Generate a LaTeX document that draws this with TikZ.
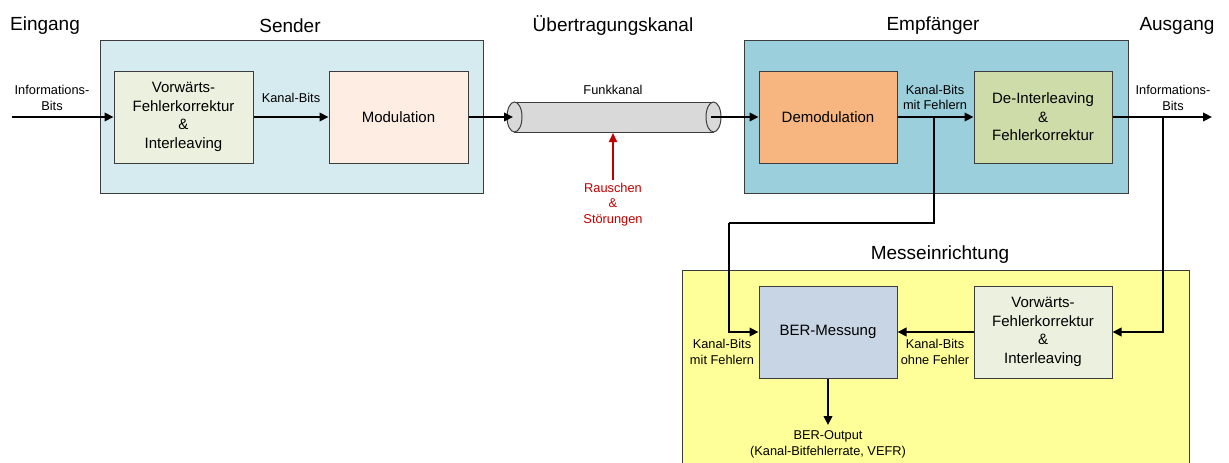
\documentclass[tikz,border=0pt]{standalone}
\usepackage{fontspec}
\setmainfont{Liberation Sans}
\usetikzlibrary{arrows.meta}
\definecolor{senderfill}{RGB}{214,235,240}
\definecolor{empffill}{RGB}{154,207,219}
\definecolor{fecfill}{RGB}{235,241,222}
\definecolor{modfill}{RGB}{253,237,226}
\definecolor{demodfill}{RGB}{247,182,128}
\definecolor{deintfill}{RGB}{205,220,169}
\definecolor{messfill}{RGB}{255,255,153}
\definecolor{berfill}{RGB}{200,213,228}
\definecolor{cylfill}{RGB}{217,217,217}
\definecolor{bordergray}{RGB}{60,60,60}
\definecolor{noisered}{RGB}{192,0,0}
\tikzset{
  frame/.style={draw=bordergray, line width=1pt, inner sep=0pt},
  blockbox/.style={draw=bordergray, line width=1pt, inner sep=0pt,
    minimum width=138pt, minimum height=92pt, align=center,
    font=\fontsize{15}{18.5}\selectfont},
  title/.style={font=\fontsize{19}{22}\selectfont, inner sep=0pt},
  lbl/.style={font=\fontsize{12.8}{15.5}\selectfont, align=center, inner sep=0pt},
  flow/.style={line width=2.2pt, -{Triangle[length=9pt,width=8.5pt]}},
  plainline/.style={line width=2.2pt},
  noise/.style={line width=2pt, draw=noisered, -{Triangle[length=9pt,width=8pt]}}
}
\begin{document}
\begin{tikzpicture}[x=1pt,y=-1pt]
\useasboundingbox (0,0) rectangle (1229,463);
\clip (0,0) rectangle (1229,463);
\fill[white] (0,0) rectangle (1229,463);

% group frames
\node[frame, fill=senderfill, minimum width=383pt, minimum height=153pt] (sender) at (291.5,116.5) {};
\node[frame, fill=empffill, minimum width=384pt, minimum height=153pt] (empf) at (936,116.5) {};
\node[frame, fill=messfill, minimum width=507pt, minimum height=220pt] (mess) at (935.5,380) {};

% titles
\node[title] (tEin) at (45,26) {Eingang};
\node[title] (tSend) at (290,26) {Sender};
\node[title] (tUeb) at (613,26) {Übertragungskanal};
\node[title] (tEmpf) at (933,26) {Empfänger};
\node[title] (tAus) at (1177,26) {Ausgang};
\node[title] (tMess) at (940,255) {Messeinrichtung};

% blocks
\node[blockbox, fill=fecfill, minimum width=139pt] (fec1) at (183.5,117) {Vorwärts-\\Fehlerkorrektur\\\&\\Interleaving};
\node[blockbox, fill=modfill, minimum width=139pt] (mod) at (398.5,117) {Modulation};
\node[blockbox, fill=demodfill] (demod) at (828,117) {Demodulation};
\node[blockbox, fill=deintfill] (deint) at (1043,117) {De-Interleaving\\\&\\Fehlerkorrektur};
\node[blockbox, fill=berfill] (ber) at (828,332) {BER-Messung};
\node[blockbox, fill=fecfill] (fec2) at (1043,332) {Vorwärts-\\Fehlerkorrektur\\\&\\Interleaving};

% channel cylinder
\node[inner sep=0pt, minimum width=200pt, minimum height=30pt] (kanal) at (614,117) {};
\fill[cylfill] (514,102) rectangle (714,132);
\draw[bordergray, line width=1pt] (514,102) -- (714,102) (514,132) -- (714,132);
\draw[bordergray, line width=1pt, fill=cylfill] (514.5,117) ellipse [x radius=7.5pt, y radius=15pt];
\draw[bordergray, line width=1pt, fill=cylfill] (713.5,117) ellipse [x radius=7.5pt, y radius=15pt];
\coordinate (cylIn) at (513,117);
\coordinate (cylOut) at (711,117);
\coordinate (cylBot) at (613,133);

% coordinates
\coordinate (inL) at (12,117);
\coordinate (outR) at (1212,117);
\coordinate (b1) at (934,117);
\coordinate (k1) at (729,223);
\coordinate (b2) at (1163,117);
\coordinate (berout) at (828,425);
\coordinate (noiseSrc) at (613,180);

% connectors
\draw[flow] (inL) -- (fec1.west);
\draw[flow] (fec1.east) -- (mod.west);
\draw[flow] (mod.east) -- (cylIn);
\draw[flow] (cylOut) -- (demod.west);
\draw[flow] (demod.east) -- (deint.west);
\draw[flow] (deint.east) -- (outR);
\draw[plainline] (b1) |- (k1);
\draw[flow] (k1) |- (ber.west);
\draw[flow] (b2) |- (fec2.east);
\draw[flow] (fec2.west) -- (ber.east);
\draw[flow] (ber.south) -- (berout);
\draw[noise] (noiseSrc) -- (cylBot);

% labels
\node[lbl] (lInfo1) at (52,98) {Informations-\\Bits};
\node[lbl] (lKB1) at (291,98) {Kanal-Bits};
\node[lbl] (lFunk) at (613,90) {Funkkanal};
\node[lbl] (lKB2) at (935,97.5) {Kanal-Bits\\mit Fehlern};
\node[lbl] (lInfo2) at (1173,98) {Informations-\\Bits};
\node[lbl, text=noisered] (lNoise) at (613,204.5) {Rauschen\\\&\\Störungen};
\node[lbl] (lKB3) at (722,352) {Kanal-Bits\\mit Fehlern};
\node[lbl] (lKB4) at (935,352) {Kanal-Bits\\ohne Fehler};
\node[lbl] (lOut) at (828,444.5) {BER-Output\\(Kanal-Bitfehlerrate, VEFR)};
\end{tikzpicture}
\end{document}
